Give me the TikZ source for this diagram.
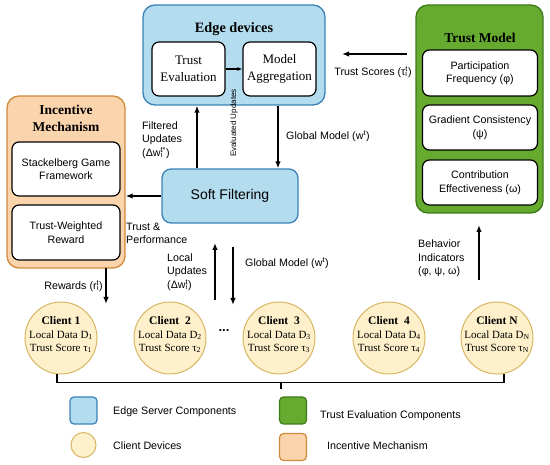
\documentclass[tikz,border=0pt]{standalone}
\usepackage{fontspec}
\setmainfont{Liberation Sans}
\newfontfamily\seriffam{Liberation Serif}
\usetikzlibrary{arrows.meta}
\definecolor{bluefill}{HTML}{B3DCEF}
\definecolor{blueline}{HTML}{3A82B6}
\definecolor{greenfill}{HTML}{66AA30}
\definecolor{greenline}{HTML}{3C7A1A}
\definecolor{orangefill}{HTML}{FAD4AC}
\definecolor{orangeline}{HTML}{D08A3C}
\definecolor{clientfill}{HTML}{FDF0CB}
\definecolor{clientline}{HTML}{D8B664}
\newcommand{\stk}[2]{\rlap{\textsubscript{#1}}\textsuperscript{#2}}
\newcommand{\lblfont}{\fontsize{10.7}{13.5}\selectfont}
\newcommand{\ttlfont}{\seriffam\bfseries\fontsize{13.5}{17}\selectfont}
\begin{document}
\begin{tikzpicture}[x=1pt,y=-1pt,
  grp/.style={draw, rounded corners=12pt, line width=1.3pt, inner sep=0pt},
  bluegrp/.style={grp, fill=bluefill, draw=blueline},
  inbox/.style={draw=black, fill=white, rounded corners=7pt, line width=1.2pt,
     align=center, inner sep=0pt, font=\lblfont},
  arr/.style={-{Latex[length=7pt,width=5.5pt]}, line width=1.5pt},
  lbl/.style={font=\lblfont, align=left, inner sep=0pt},
  ttl/.style={font=\ttlfont, align=center, inner sep=0pt},
  client/.style={circle, draw=clientline, fill=clientfill, line width=1pt,
     minimum size=72pt, inner sep=0pt,
     label={[align=center, inner sep=0pt, yshift=3.5pt,
       font=\seriffam\fontsize{11}{13}\selectfont]center:{#1}}},
  legsq/.style={draw, rounded corners=4pt, line width=1.2pt, minimum size=27pt, inner sep=0pt},
]
\useasboundingbox (0,0) rectangle (550,465);

% Edge devices
\node[bluegrp, minimum width=182pt, minimum height=100pt] (edge) at (234,55) {};
\node[ttl, font=\seriffam\bfseries\fontsize{14.3}{17}\selectfont] (edgettl) at (234,29) {Edge devices};
\node[inbox, minimum width=73pt, minimum height=54pt, font=\seriffam\fontsize{13}{17}\selectfont] (te) at (188.5,69) {Trust\\Evaluation};
\node[inbox, minimum width=73pt, minimum height=54pt, font=\seriffam\fontsize{13}{17}\selectfont] (ma) at (279.5,69) {Model\\Aggregation};
\draw[-{Latex[length=5pt,width=4pt]}, line width=1.3pt] (te) -- (ma);

% Trust model
\node[grp, fill=greenfill, draw=greenline, minimum width=127pt, minimum height=208pt] (tm) at (479.5,109) {};
\node[ttl] (tmttl) at (480,38) {Trust Model};
\node[inbox, minimum width=115pt, minimum height=46pt] (pf) at (480,73) {Participation\\Frequency (φ)};
\node[inbox, minimum width=115pt, minimum height=45pt] (gc) at (480,127.5) {Gradient Consistency\\(ψ)};
\node[inbox, minimum width=115pt, minimum height=45pt] (ce) at (480,182.5) {Contribution\\Effectiveness (ω)};

% Incentive mechanism
\node[grp, fill=orangefill, draw=orangeline, minimum width=118pt, minimum height=172pt] (inc) at (66,182) {};
\node[ttl, font=\seriffam\bfseries\fontsize{13.5}{16.5}\selectfont] (incttl) at (66,118.5) {Incentive\\Mechanism};
\node[inbox, minimum width=108pt, minimum height=54pt] (sg) at (66,169) {Stackelberg Game\\Framework};
\node[inbox, minimum width=108pt, minimum height=55pt] (tw) at (66,232.5) {Trust-Weighted\\Reward};

% Soft filtering
\node[bluegrp, rounded corners=9pt, minimum width=136pt, minimum height=54pt, font=\fontsize{14}{16}\selectfont] (sf) at (230,196) {Soft Filtering};

% Clients
\node[client={\textbf{\fontsize{11.5}{15}\selectfont Client 1}\\[1pt]Local Data D\textsubscript{1}\\Trust Score τ\textsubscript{1}}] (c1) at (61,338) {};
\node[client={\textbf{\fontsize{11.5}{15}\selectfont Client\ \ 2}\\[1pt]Local Data D\textsubscript{2}\\Trust Score τ\textsubscript{2}}] (c2) at (170,338) {};
\node[client={\textbf{\fontsize{11.5}{15}\selectfont Client\ \ 3}\\[1pt]Local Data D\textsubscript{3}\\Trust Score τ\textsubscript{3}}] (c3) at (279,338) {};
\node[client={\textbf{\fontsize{11.5}{15}\selectfont Client\ \ 4}\\[1pt]Local Data D\textsubscript{4}\\Trust Score τ\textsubscript{4}}] (c4) at (389,338) {};
\node[client={\textbf{\fontsize{11.5}{15}\selectfont Client N}\\[1pt]Local Data D\textsubscript{N}\\Trust Score τ\textsubscript{N}}] (cn) at (497,338) {};
\node[font=\bfseries\fontsize{13}{13}\selectfont, inner sep=0pt] (dots) at (224,331) {...};

% Named free ends
\coordinate (tsA) at (407,54);
\coordinate (tsB) at (342,54);
\coordinate (rwA) at (106,268);
\coordinate (rwB) at (106,304);
\coordinate (luA) at (215,300);
\coordinate (luB) at (215,243);
\coordinate (gmA) at (233,247);
\coordinate (gmB) at (233,305);
\coordinate (biA) at (479,280);
\coordinate (biB) at (479,225);

% Connectors
\draw[arr] (tsA) -- (tsB);
\node[lbl] (tslbl) at (373,72) {Trust Scores (τ\stk{i}{t})};
\draw[arr] (edge.south -| 278,0) -- (sf.north -| 278,0);
\node[lbl, anchor=west] (gm1lbl) at (286,136) {Global Model (w\textsuperscript{t})};
\draw[arr] (sf.north -| 197,0) -- (edge.south -| 197,0);
\node[lbl, anchor=west] (fulbl) at (142,140) {Filtered\\Updates\\(Δw\stk{i}{t*})};
\node[inner sep=0pt, rotate=90, font=\fontsize{8}{9}\selectfont] (evlbl) at (234,123) {Evaluated Updates};
\draw[arr] (sf.west) -- (inc.east |- sf.west);
\node[lbl, anchor=west] (tplbl) at (126,233.5) {Trust \&\\Performance};
\draw[arr] (rwA) -- (rwB);
\node[lbl, anchor=east] (rwlbl) at (103,286) {Rewards (r\stk{i}{t})};
\draw[arr] (luA) -- (luB);
\node[lbl, anchor=west] (lulbl) at (167,272) {Local\\Updates\\(Δw\stk{i}{t})};
\draw[arr] (gmA) -- (gmB);
\node[lbl, anchor=west] (gm2lbl) at (245,263) {Global Model (w\textsuperscript{t})};
\draw[arr] (biA) -- (biB);
\node[lbl, anchor=west] (bilbl) at (418,258.5) {Behavior\\Indicators\\(φ, ψ, ω)};

% Bracket under clients
\draw[line width=1.5pt] ([xshift=-4pt]c1.south) -- ++(0,8) -| ([xshift=7pt]cn.south);
\draw[line width=1.3pt] (c3.south |- 0,382) ++(2,0) -- ++(0,7);

% Legend
\node[legsq, fill=bluefill, draw=blueline] (lg1) at (83.5,410.5) {};
\node[lbl, anchor=west] (lg1t) at (113,412) {Edge Server Components};
\node[circle, draw=clientline, fill=clientfill, line width=1pt, minimum size=25pt, inner sep=0pt] (lg2) at (83.5,445) {};
\node[lbl, anchor=west] (lg2t) at (113,446) {Client Devices};
\node[legsq, fill=greenfill, draw=greenline] (lg3) at (293,410.5) {};
\node[lbl, anchor=west] (lg3t) at (320,416) {Trust Evaluation Components};
\node[legsq, fill=orangefill, draw=orangeline] (lg4) at (293,447) {};
\node[lbl, anchor=west] (lg4t) at (327,446) {Incentive Mechanism};
\end{tikzpicture}
\end{document}
